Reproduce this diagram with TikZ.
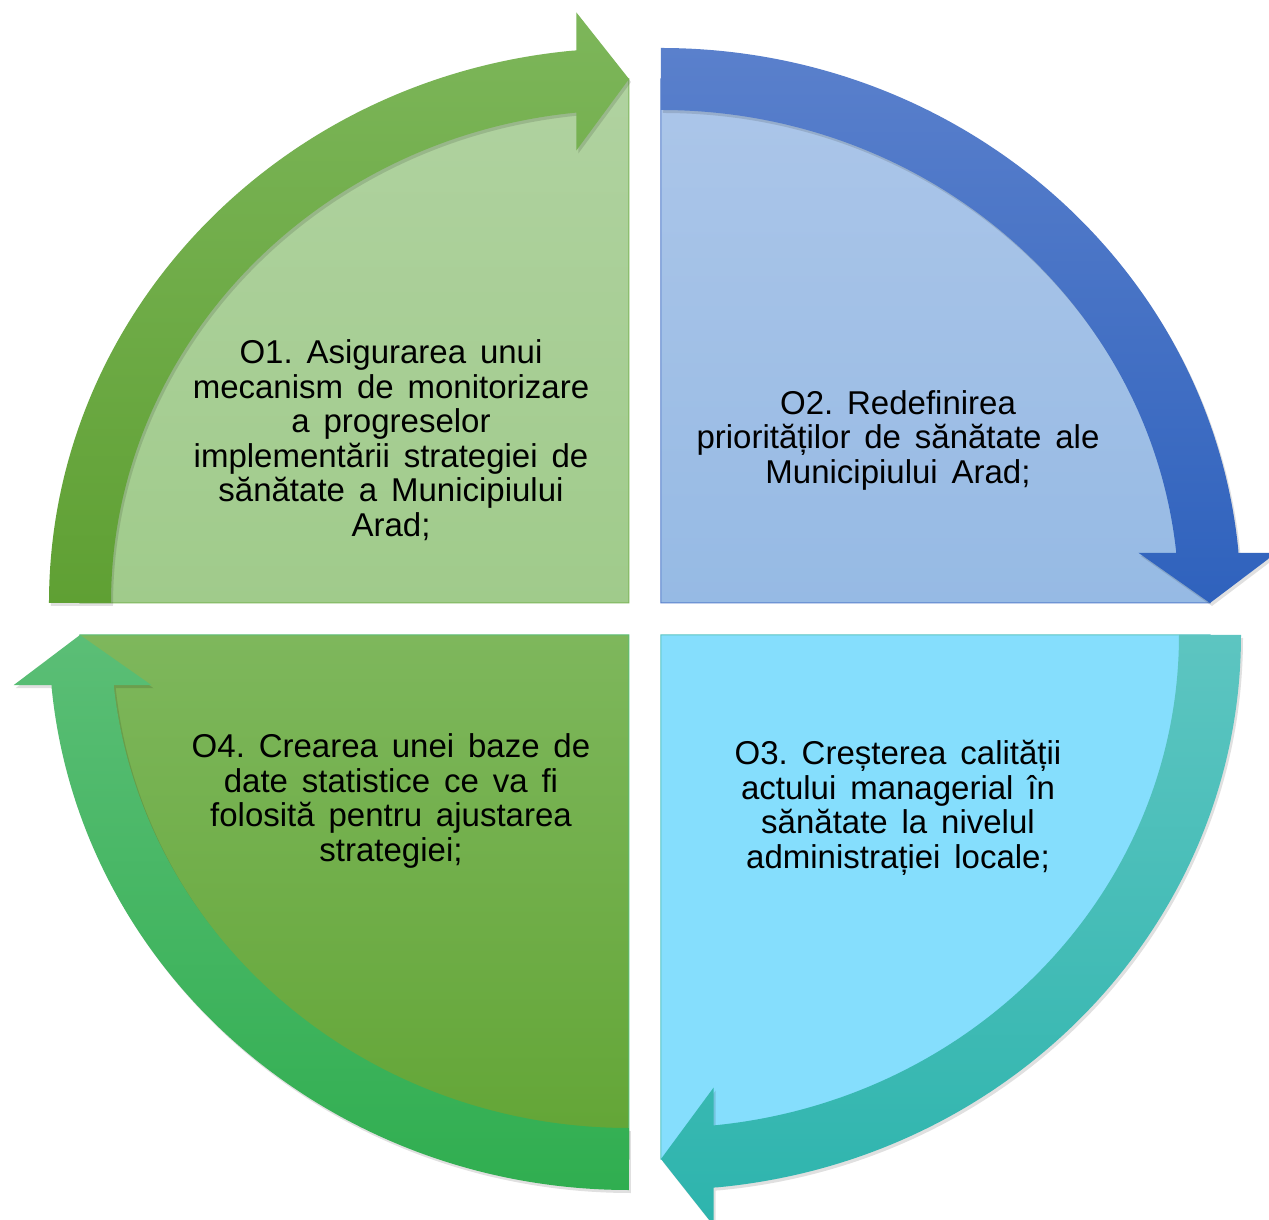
\documentclass[tikz,border=0pt]{standalone}
\usepackage{fontspec}
\setmainfont{Liberation Sans}
\definecolor{tlfillA}{HTML}{B0D2A0}
\definecolor{tlfillB}{HTML}{A0CB8B}
\definecolor{tlbandA}{HTML}{7DB65A}
\definecolor{tlbandB}{HTML}{5FA033}
\definecolor{trfillA}{HTML}{ACC6E9}
\definecolor{trfillB}{HTML}{96BAE4}
\definecolor{trbandA}{HTML}{5A80CC}
\definecolor{trbandB}{HTML}{2F62BD}
\definecolor{brfillA}{HTML}{85DEFD}
\definecolor{brfillB}{HTML}{85DEFD}
\definecolor{brbandA}{HTML}{5DC5C1}
\definecolor{brbandB}{HTML}{2DB4AD}
\definecolor{blfillA}{HTML}{7EB75C}
\definecolor{blfillB}{HTML}{62A535}
\definecolor{blbandA}{HTML}{5BBE76}
\definecolor{blbandB}{HTML}{30AE50}
\begin{document}
\begin{tikzpicture}[x=1pt, y=1pt,
    every node/.style={font={\fontsize{33}{34.5}\selectfont\frenchspacing\spaceskip=0.42em\relax}, align=center},
    soft shadow/.style={preaction={fill=black, opacity=0.12, transform canvas={shift={(2pt,-3pt)}}}}]
    \useasboundingbox[fill=white] (-645,-601) rectangle (624,619);

    % quadrants: corner x / corner y / start angle / colours
    \foreach \cx/\cy/\a/\fa/\fb/\ba/\bb in {
        -16/16/180/tlfillA/tlfillB/tlbandA/tlbandB,
        16/16/90/trfillA/trfillB/trbandA/trbandB,
        16/-16/0/brfillA/brfillB/brbandA/brbandB,
        -16/-16/-90/blfillA/blfillB/blbandA/blbandB} {
        \pgfmathsetmacro\e{\a-90}
        \pgfmathsetmacro\b{\a-84.5}
        \begin{scope}[shift={(\cx,\cy)}]
            \path[draw=\ba, line width=1pt, top color=\fa, bottom color=\fb]
                (0,0) -- ({549*cos(\a)},{524*sin(\a)})
                arc[start angle=\a, end angle=\e, x radius=549, y radius=524] -- cycle;
            \path[soft shadow, top color=\ba, bottom color=\bb]
                ({580*cos(\a)},{555*sin(\a)})
                arc[start angle=\a, end angle=\b, x radius=580, y radius=555]
                -- ({549*cos(\b)+31*cos(\e)},{524*sin(\b)+31*sin(\e)})
                -- ({549*cos(\b)+69*cos(\e)},{524*sin(\b)+69*sin(\e)})
                -- ({549*cos(\e)},{524*sin(\e)})
                -- ({549*cos(\b)-69*cos(\e)},{524*sin(\b)-69*sin(\e)})
                -- ({549*cos(\b)-31*cos(\e)},{524*sin(\b)-31*sin(\e)})
                -- ({518*cos(\b)},{493*sin(\b)})
                arc[start angle=\b, end angle=\a, x radius=518, y radius=493] -- cycle;
        \end{scope}
    }

    \node (o1) at (-254,179) {O1. Asigurarea unui\\mecanism de monitorizare\\a progreselor\\implementării strategiei de\\sănătate a Municipiului\\Arad;};
    \node (o2) at (253,179) {O2. Redefinirea\\priorităților de sănătate ale\\Municipiului Arad;};
    \node (o3) at (253,-189) {O3. Creșterea calității\\actului managerial în\\sănătate la nivelul\\administrației locale;};
    \node (o4) at (-254,-182) {O4. Crearea unei baze de\\date statistice ce va fi\\folosită pentru ajustarea\\strategiei;};
\end{tikzpicture}
\end{document}
